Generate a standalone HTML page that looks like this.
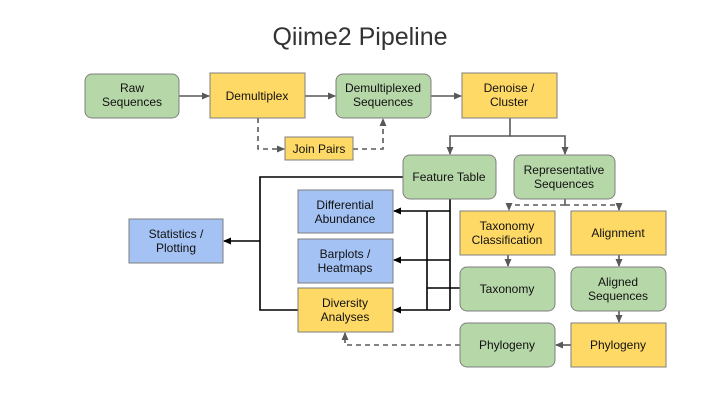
<!DOCTYPE html>
<html><head><style>
body{margin:0;width:720px;height:405px;background:#fff;overflow:hidden;font-family:"Liberation Sans",sans-serif}
</style></head><body>
<svg width="720" height="405" xmlns="http://www.w3.org/2000/svg" font-family="Liberation Sans, sans-serif">
<defs>
<marker id="a" markerWidth="8" markerHeight="8" refX="7" refY="4" orient="auto" markerUnits="userSpaceOnUse"><path d="M0,0.5 L8,4 L0,7.5z" fill="#595959"/></marker>
<marker id="k" markerWidth="8" markerHeight="8" refX="7" refY="4" orient="auto" markerUnits="userSpaceOnUse"><path d="M0,0.5 L8,4 L0,7.5z" fill="#000"/></marker>
</defs>
<text x="360" y="45" font-size="25" text-anchor="middle" fill="#333">Qiime2 Pipeline</text>
<g stroke="#595959" stroke-width="1.6" fill="none">
<line x1="179" y1="96" x2="209" y2="96" marker-end="url(#a)"/>
<line x1="305" y1="96" x2="335" y2="96" marker-end="url(#a)"/>
<line x1="431" y1="96" x2="461" y2="96" marker-end="url(#a)"/>
<path d="M510 118V136H450V154" marker-end="url(#a)"/>
<path d="M510 136H565V154" marker-end="url(#a)"/>
<path d="M258 118V149H284" stroke-dasharray="5,4" marker-end="url(#a)"/>
<path d="M353 149H383V119" stroke-dasharray="5,4" marker-end="url(#a)"/>
<path d="M565 199V205" />
<path d="M565 205H509V210" stroke-dasharray="5,4" marker-end="url(#a)"/>
<path d="M565 205H619V210" stroke-dasharray="5,4" marker-end="url(#a)"/>
<line x1="508" y1="255" x2="508" y2="266" marker-end="url(#a)"/>
<line x1="619" y1="255" x2="619" y2="266" marker-end="url(#a)"/>
<line x1="619" y1="311" x2="619" y2="322" marker-end="url(#a)"/>
<line x1="571" y1="345" x2="556" y2="345" marker-end="url(#a)"/>
<path d="M460 345H345V333" stroke-dasharray="5,4" marker-end="url(#a)"/>
</g>
<g stroke="#000" stroke-width="1.6" fill="none">
<path d="M403 177H260V310H298"/>
<line x1="260" y1="241" x2="224" y2="241" marker-end="url(#k)"/>
<path d="M450 199V310"/>
<line x1="450" y1="211" x2="394" y2="211" marker-end="url(#k)"/>
<line x1="450" y1="260" x2="394" y2="260" marker-end="url(#k)"/>
<line x1="450" y1="310" x2="394" y2="310" marker-end="url(#k)"/>
<path d="M427 211V310"/>
<path d="M460 288H427"/>
</g>
<g stroke="#7f7f7f" stroke-width="1">
<rect x="85" y="74" width="94" height="44" rx="7" fill="#b6d7a8"/>
<rect x="210" y="73" width="95" height="45" fill="#ffd966"/>
<rect x="336" y="74" width="95" height="44" rx="7" fill="#b6d7a8"/>
<rect x="462" y="73" width="95" height="45" fill="#ffd966"/>
<rect x="285" y="137" width="68" height="23" fill="#ffd966"/>
<rect x="403" y="155" width="93" height="44" rx="7" fill="#b6d7a8"/>
<rect x="514" y="155" width="101" height="44" rx="7" fill="#b6d7a8"/>
<rect x="460" y="211" width="95" height="44" fill="#ffd966"/>
<rect x="571" y="211" width="95" height="44" fill="#ffd966"/>
<rect x="460" y="267" width="95" height="44" rx="7" fill="#b6d7a8"/>
<rect x="571" y="267" width="95" height="44" rx="7" fill="#b6d7a8"/>
<rect x="460" y="323" width="95" height="44" rx="7" fill="#b6d7a8"/>
<rect x="571" y="323" width="95" height="44" fill="#ffd966"/>
<rect x="298" y="190" width="95" height="43" fill="#a4c2f4"/>
<rect x="298" y="239" width="95" height="44" fill="#a4c2f4"/>
<rect x="298" y="288" width="95" height="44" fill="#ffd966"/>
<rect x="129" y="219" width="94" height="44" fill="#a4c2f4"/>
</g>
<g font-size="12" fill="#111" text-anchor="middle">
<text x="132" y="92">Raw</text><text x="132" y="106">Sequences</text>
<text x="257" y="100">Demultiplex</text>
<text x="383" y="92">Demultiplexed</text><text x="383" y="106">Sequences</text>
<text x="509" y="92">Denoise /</text><text x="509" y="106">Cluster</text>
<text x="319" y="153">Join Pairs</text>
<text x="449" y="181">Feature Table</text>
<text x="564" y="174">Representative</text><text x="564" y="188">Sequences</text>
<text x="507" y="230">Taxonomy</text><text x="507" y="244">Classification</text>
<text x="618" y="237">Alignment</text>
<text x="507" y="293">Taxonomy</text>
<text x="618" y="286">Aligned</text><text x="618" y="300">Sequences</text>
<text x="507" y="349">Phylogeny</text>
<text x="618" y="349">Phylogeny</text>
<text x="345" y="209">Differential</text><text x="345" y="223">Abundance</text>
<text x="345" y="258">Barplots /</text><text x="345" y="272">Heatmaps</text>
<text x="345" y="307">Diversity</text><text x="345" y="321">Analyses</text>
<text x="176" y="238">Statistics /</text><text x="176" y="252">Plotting</text>
</g>
</svg>
</body></html>
